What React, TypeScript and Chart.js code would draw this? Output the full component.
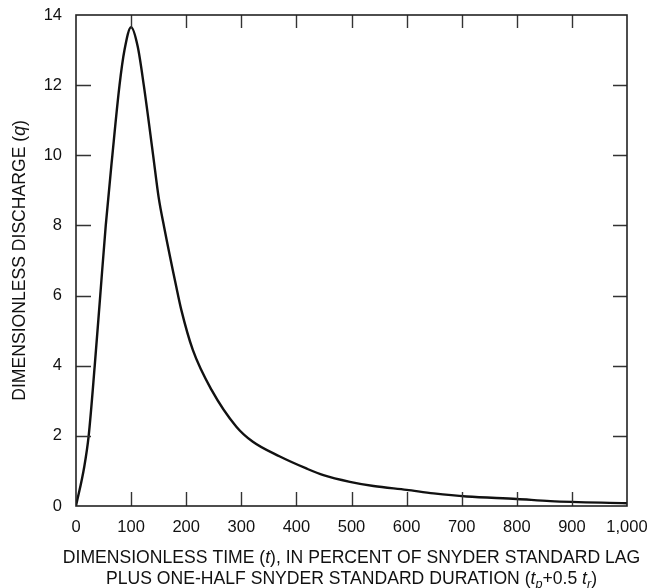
import React, { useEffect, useRef } from "react";
import { Chart, registerables } from "chart.js";

Chart.register(...registerables);

// Dimensionless time t (percent of lag + half duration)
const TIME = [0, 15, 23, 34, 44, 54, 66, 79, 88, 100, 112, 123, 140, 150, 160, 182, 191, 212, 246, 291, 321, 370, 418, 449, 497, 540, 600, 649, 709, 800, 861, 1000];
// Dimensionless discharge q
const DISCHARGE = [0, 1.12, 2.0, 4.0, 6.0, 8.0, 10.0, 12.0, 13.0, 13.65, 13.1, 12.0, 10.0, 8.8, 7.95, 6.25, 5.6, 4.45, 3.31, 2.26, 1.83, 1.41, 1.07, 0.88, 0.69, 0.57, 0.46, 0.36, 0.27, 0.2, 0.14, 0.08];

const X_TICKS = [0, 100, 200, 300, 400, 500, 600, 700, 800, 900, 1000];
const Y_TICKS = [0, 2, 4, 6, 8, 10, 12, 14];

const FONT = '"Liberation Sans", Arial, Helvetica, sans-serif';

type Run = { text: string; italic?: boolean; sub?: boolean };

const X_TITLE_1: Run[] = [
  { text: "DIMENSIONLESS TIME (" },
  { text: "t", italic: true },
  { text: "), IN PERCENT OF SNYDER STANDARD LAG" },
];
const X_TITLE_2: Run[] = [
  { text: "PLUS ONE-HALF SNYDER STANDARD DURATION (" },
  { text: "t", italic: true },
  { text: "p", italic: true, sub: true },
  { text: "+0.5 " },
  { text: "t", italic: true },
  { text: "r", italic: true, sub: true },
  { text: ")" },
];
const Y_TITLE: Run[] = [
  { text: "DIMENSIONLESS DISCHARGE (" },
  { text: "q", italic: true },
  { text: ")" },
];

const TITLE_SIZE = 17.6;

function runFont(r: Run) {
  const size = r.sub ? TITLE_SIZE * 0.72 : TITLE_SIZE;
  return `${r.italic ? "italic " : ""}${size}px ${FONT}`;
}

function drawRuns(ctx: CanvasRenderingContext2D, runs: Run[], cx: number, baseline: number) {
  let total = 0;
  for (const r of runs) {
    ctx.font = runFont(r);
    total += ctx.measureText(r.text).width;
  }
  let x = cx - total / 2;
  ctx.textAlign = "left";
  ctx.textBaseline = "alphabetic";
  for (const r of runs) {
    ctx.font = runFont(r);
    ctx.fillText(r.text, x, baseline + (r.sub ? 4 : 0));
    x += ctx.measureText(r.text).width;
  }
}

const framePlugin = {
  id: "frameAndTitles",
  afterDraw(chart: any) {
    const { ctx, chartArea, scales } = chart;
    const { left, right, top, bottom } = chartArea;
    const xs = scales.x;
    const ys = scales.y;
    ctx.save();
    // ticks (inward, on all four sides)
    ctx.strokeStyle = "#333";
    ctx.lineWidth = 1.4;
    ctx.beginPath();
    for (const v of X_TICKS) {
      if (v === X_TICKS[0] || v === X_TICKS[X_TICKS.length - 1]) continue;
      const px = Math.round(xs.getPixelForValue(v)) + 0.5;
      ctx.moveTo(px, bottom);
      ctx.lineTo(px, bottom - 14);
      ctx.moveTo(px, top);
      ctx.lineTo(px, top + 13);
    }
    for (const v of Y_TICKS) {
      if (v === Y_TICKS[0] || v === Y_TICKS[Y_TICKS.length - 1]) continue;
      const py = Math.round(ys.getPixelForValue(v)) + 0.5;
      ctx.moveTo(left, py);
      ctx.lineTo(left + 15, py);
      ctx.moveTo(right, py);
      ctx.lineTo(right - 14, py);
    }
    ctx.stroke();
    // frame
    ctx.strokeStyle = "#222";
    ctx.lineWidth = 1.6;
    ctx.strokeRect(left, top, right - left, bottom - top);

    // axis titles
    ctx.fillStyle = "#111";
    const cx = (left + right) / 2;
    drawRuns(ctx, X_TITLE_1, cx, 563);
    drawRuns(ctx, X_TITLE_2, cx, 584);
    ctx.translate(25, (top + bottom) / 2);
    ctx.rotate(-Math.PI / 2);
    drawRuns(ctx, Y_TITLE, 0, 0);
    ctx.restore();
  },
};

export default function App() {
  const ref = useRef<HTMLCanvasElement | null>(null);

  useEffect(() => {
    document.body.style.margin = "0";
    const canvas = ref.current;
    if (!canvas) return;
    const chart = new Chart(canvas, {
      type: "line",
      data: {
        datasets: [
          {
            data: TIME.map((t, i) => ({ x: t, y: DISCHARGE[i] })),
            borderColor: "#111",
            borderWidth: 2.4,
            pointRadius: 0,
            fill: false,
            cubicInterpolationMode: "monotone",
          },
        ],
      },
      options: {
        responsive: false,
        animation: false,
        devicePixelRatio: 1,
        layout: { padding: { left: 0, right: 24, top: 15, bottom: 0 } },
        plugins: {
          legend: { display: false },
          tooltip: { enabled: false },
          title: { display: false },
        },
        scales: {
          x: {
            type: "linear",
            min: 0,
            max: 1000,
            afterBuildTicks: (scale: any) => {
              scale.ticks = X_TICKS.map((v) => ({ value: v }));
            },
            afterFit: (scale: any) => {
              scale.height = 82;
              scale.paddingLeft = 0;
              scale.paddingRight = 0;
            },
            grid: { display: false, drawTicks: false },
            border: { display: false },
            ticks: {
              padding: 12,
              color: "#111",
              maxRotation: 0,
              autoSkip: false,
              font: { family: FONT, size: 16.5 },
              callback: (v: any) => Number(v).toLocaleString("en-US"),
            },
          },
          y: {
            type: "linear",
            min: 0,
            max: 14,
            afterBuildTicks: (scale: any) => {
              scale.ticks = Y_TICKS.map((v) => ({ value: v }));
            },
            afterFit: (scale: any) => {
              scale.width = 76;
              scale.paddingTop = 0;
              scale.paddingBottom = 0;
            },
            grid: { display: false, drawTicks: false },
            border: { display: false },
            ticks: {
              padding: 14,
              color: "#111",
              autoSkip: false,
              font: { family: FONT, size: 16.5 },
              callback: (v: any) => String(v),
            },
          },
        },
      },
      plugins: [framePlugin],
    } as any);
    return () => chart.destroy();
  }, []);

  return <canvas ref={ref} width={651} height={588} style={{ display: "block" }} />;
}
